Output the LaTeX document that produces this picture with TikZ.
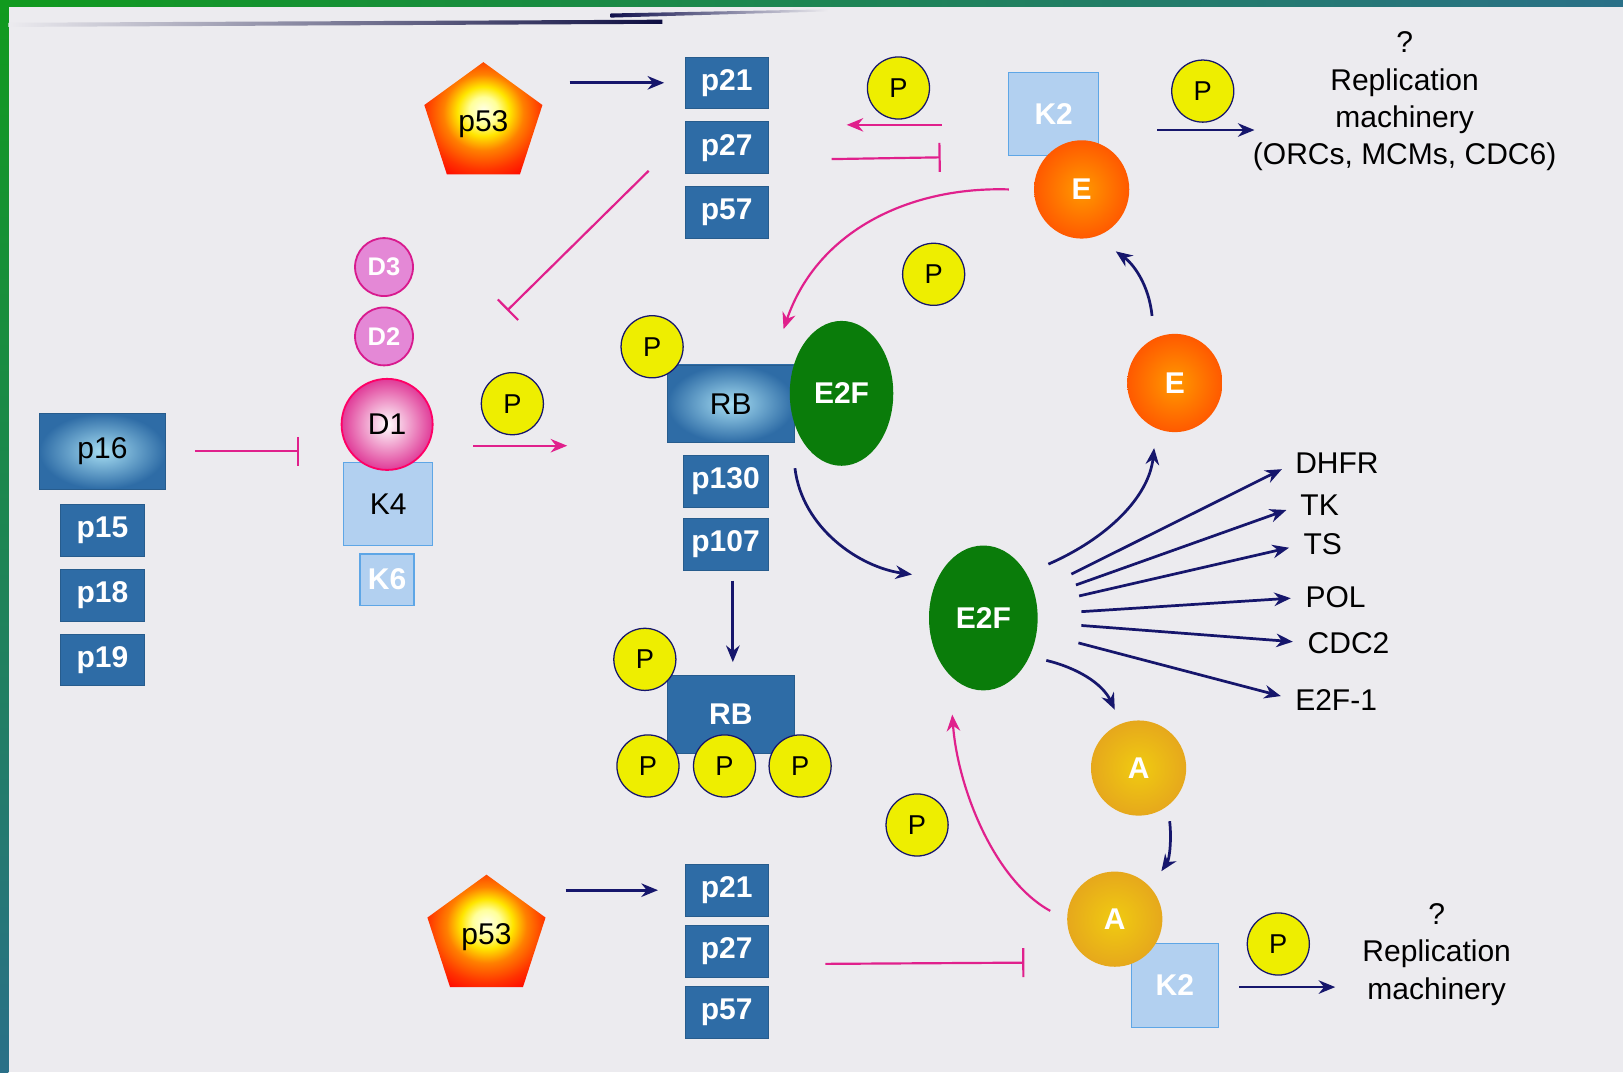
\documentclass[tikz,border=0pt]{standalone}
\usepackage{fontspec}
\setmainfont{Liberation Sans}
\usetikzlibrary{positioning, arrows.meta, shapes.geometric}

\definecolor{bgrey}{HTML}{ECEBEF}
\definecolor{boxblue}{HTML}{2E6CA6}
\definecolor{glowblue}{HTML}{A6DDF2}
\definecolor{kblue}{HTML}{B2D0F0}
\definecolor{kedge}{HTML}{5EA6E6}
\definecolor{pyellow}{HTML}{EEEE00}
\definecolor{navy}{HTML}{16166C}
\definecolor{mag}{HTML}{E0208C}
\definecolor{egreen}{HTML}{0A7C0A}
\definecolor{agold}{HTML}{E6A81C}
\definecolor{dpink}{HTML}{E488D6}
\definecolor{dedge}{HTML}{D81A8E}
\definecolor{bandgreen}{HTML}{119A1E}
\definecolor{bandteal}{HTML}{2A7088}

\newcommand{\figfont}{\fontsize{16.5}{20.5}\selectfont}

\pgfdeclareradialshading{p53glow}{\pgfpoint{0bp}{4bp}}{color(0bp)=(yellow!10!white); color(6bp)=(yellow!40!white); color(11bp)=(yellow!80!orange); color(17bp)=(orange); color(25bp)=(red!60!orange); color(32bp)=(red); color(50bp)=(red)}

\begin{document}
\begin{tikzpicture}[x=0.02cm, y=-0.02cm,
    node distance=0.24cm,
    box/.style={rectangle, fill=boxblue, draw=boxblue!85!black, text=white, font=\figfont\bfseries, minimum width=1.6cm, minimum height=1cm, inner sep=0pt},
    glowbox/.style={box, inner color=glowblue, outer color=boxblue, text=black, font=\figfont},
    kbox/.style={rectangle, fill=kblue, draw=kedge, line width=0.8pt, text=white, font=\figfont\bfseries, inner sep=0pt},
    pball/.style={circle, fill=pyellow, draw=navy, line width=0.7pt, minimum size=1.2cm, inner sep=0pt, font=\fontsize{15}{15}\selectfont},
    e2f/.style={ellipse, fill=egreen, text=white, font=\figfont\bfseries, minimum width=2cm, minimum height=2.8cm, inner sep=0pt},
    cyce/.style={ellipse, inner color=orange!80!yellow, outer color=orange!70!red, text=white, font=\figfont\bfseries, minimum width=1.84cm, minimum height=1.9cm, inner sep=0pt},
    cyca/.style={circle, inner color=agold!60!yellow, outer color=agold, text=white, font=\figfont\bfseries, minimum size=1.84cm, inner sep=0pt},
    dball/.style={circle, fill=dpink, draw=dedge, line width=1pt, text=white, font=\fontsize{14}{14}\selectfont\bfseries, minimum size=1.12cm, inner sep=0pt},
    pent/.style={regular polygon, regular polygon sides=5, minimum size=2.4cm, inner sep=0pt, shade, shading=p53glow, font=\figfont},
    gene/.style={anchor=west, text=black, font=\figfont, inner sep=0pt},
    repl/.style={font=\figfont, align=center, inner sep=0pt},
    arr/.style={-{Stealth[length=0.32cm, width=0.26cm]}, draw=navy, line width=1.5pt},
    parr/.style={arr, draw=mag, line width=1.2pt},
    inh/.style={-{Bar[width=0.56cm]}, draw=mag, line width=1.2pt}
]

% frame
\fill[bgrey] (0,0) rectangle (1568,1036);
\useasboundingbox (0,0) rectangle (1568,1036);
\shade[left color=bandgreen, right color=bandteal] (0,0) rectangle (1568,6);
\shade[top color=bandgreen, bottom color=bandteal] (0,0) rectangle (8,1036);
\shade[left color=bgrey, right color=navy!60!black] (8,22) -- (640,19) -- (640,23) -- (8,26) -- cycle;
\shade[left color=navy!70!black, right color=bgrey] (590,13) -- (800,9) -- (800,11) -- (590,17) -- cycle;

% G1/S: p53 -> CKI
\node[pent] (p53top) at (467,120) {p53};
\node[box] (p21top) at (702,80) {p21};
\node[box, below=of p21top] (p27top) {p27};
\node[box, below=of p27top] (p57top) {p57};

\node[pball] (P1) at (868,85) {P};
\node[kbox, minimum width=1.74cm, minimum height=1.6cm] (K2top) at (1018,110) {K2};
\node[cyce] (Etop) at (1045,183) {E};
\node[pball] (P2) at (1162,88) {P};
\node[repl] (repl1) at (1357,98) {?\\Replication\\machinery\\(ORCs, MCMs, CDC6)};
\node[pball] (P3) at (902,265) {P};

% cyclin D / CDK4
\node[dball] (D3) at (371,258) {D3};
\node[dball] (D2) at (371,325) {D2};
\node[kbox, text=black, font=\figfont, minimum width=1.72cm, minimum height=1.6cm] (K4) at (375,487) {K4};
\node[circle, inner color=white, outer color=dedge!80!pink, draw=red!60!magenta, line width=1pt, minimum size=1.76cm, inner sep=0pt, font=\figfont] (D1) at (374,410) {D1};
\node[kbox, minimum width=1.04cm, minimum height=1cm] (K6) at (374,560) {K6};
\coordinate (cdkhit) at (490,300);

% INK4 family
\node[glowbox, minimum width=2.44cm, minimum height=1.46cm] (p16) at (99,436) {p16};
\node[box, minimum width=1.62cm, below=0.28cm of p16] (p15) {p15};
\node[box, minimum width=1.62cm, below=of p15] (p18) {p18};
\node[box, minimum width=1.62cm, below=of p18] (p19) {p19};

\node[pball] (P4) at (495,390) {P};

% RB pocket proteins
\node[glowbox, minimum width=2.46cm, minimum height=1.5cm] (RB1) at (706,390) {RB};
\node[pball] (P5) at (630,335) {P};
\node[e2f] (E2F1) at (813,380) {E2F};
\coordinate (rbhit) at (757,318);
\node[box, minimum width=1.64cm] (p130) at (701,465) {p130};
\node[box, minimum width=1.64cm, below=0.2cm of p130] (p107) {p107};

\node[box, minimum width=2.46cm, minimum height=1.52cm] (RB2) at (706,690) {RB};
\node[pball] (P6) at (623,637) {P};
\node[pball] (P7) at (626,740) {P};
\node[pball] (P8) at (700,740) {P};
\node[pball] (P9) at (773,740) {P};

% free E2F and targets
\node[e2f, minimum width=2.1cm] (E2F2) at (950,597) {E2F};
\node[cyce] (Emid) at (1135,370) {E};
\foreach \g/\x/\y/\t in {dhfr/1251/447/DHFR, tk/1256/488/TK, ts/1259/526/TS, pol/1261/577/POL, cdc2/1263/621/CDC2, e2f1/1251/676/E2F-1}
    \node[gene] (\g) at (\x,\y) {\t};

% cyclin A
\node[cyca] (A1) at (1100,742) {A};
\node[kbox, minimum width=1.68cm, minimum height=1.62cm] (K2bot) at (1135,952) {K2};
\node[cyca] (A2) at (1077,888) {A};
\node[pball] (P10) at (886,797) {P};

% S phase: p53 -> CKI
\node[pent] (p53bot) at (470,905) {p53};
\node[box] (p21bot) at (702,860) {p21};
\node[box, below=0.17cm of p21bot] (p27bot) {p27};
\node[box, below=0.17cm of p27bot] (p57bot) {p57};
\node[pball] (P11) at (1235,912) {P};
\node[repl] (repl2) at (1388,922) {?\\Replication\\machinery};

% connectors
\draw[arr, shorten <=0.64cm, shorten >=0.4cm] (p53top.east |- p21top.west) -- (p21top.west);
\draw[inh] ([shift={(-35,-3)}]p27top.south west) -- (cdkhit);
\draw[parr] ([shift={(42,5)}]P1.south) -- ([shift={(-50,5)}]P1.south);
\draw[inh] ([shift={(61,11)}]p27top.east) -- ([shift={(-65,42)}]K2top.west);
\draw[parr] ([xshift=-0.48cm]Etop.west) .. controls (880,180) and (790,222) .. (rbhit);
\draw[arr] ([shift={(-44,7)}]P2.south) -- ([shift={(50,7)}]P2.south);

\draw[inh, shorten <=0.56cm, shorten >=0.84cm] (p16.east) -- (p16.east -| K4.west);
\draw[parr] ([shift={(-38,10)}]P4.south) -- ([shift={(53,10)}]P4.south);

\draw[arr] ([shift={(-45,2)}]E2F1.south) .. controls (775,510) and (830,548) .. ([shift={(-16,-42)}]E2F2.west);
\draw[arr, shorten <=0.2cm, shorten >=0.24cm] ([xshift=0.14cm]p107.south) -- ([xshift=0.14cm]p107.south |- RB2.north);

\foreach \g in {dhfr, tk, ts, pol, cdc2, e2f1}
    \draw[arr, shorten <=1.9cm, shorten >=0.28cm] (E2F2.center) -- (\g.west);

\draw[arr] ([shift={(10,-52)}]E2F2.east) .. controls (1070,520) and (1110,480) .. ([shift={(-20,15)}]Emid.south);
\draw[arr] ([shift={(-22,-17)}]Emid.north) .. controls (1110,275) and (1095,255) .. ([shift={(33,12)}]Etop.south);
\draw[arr] ([shift={(8,41)}]E2F2.east) .. controls (1040,645) and (1065,660) .. ([shift={(-23,-10)}]A1.north);
\draw[arr] ([shift={(30,5)}]A1.south) .. controls (1132,810) and (1130,830) .. ([shift={(45,0)}]A2.north);
\draw[parr] ([shift={(-16,-8)}]A2.west) .. controls (960,850) and (925,760) .. ([shift={(-30,23)}]E2F2.south);

\draw[arr, shorten <=0.5cm, shorten >=0.52cm] (p53bot.east |- p21bot.west) -- (p21bot.west);
\draw[inh] ([shift={(55,12)}]p27bot.east) -- ([shift={(-41,42)}]A2.west);
\draw[arr] ([shift={(-38,11)}]P11.south) -- ([shift={(55,11)}]P11.south);

\end{tikzpicture}
\end{document}
